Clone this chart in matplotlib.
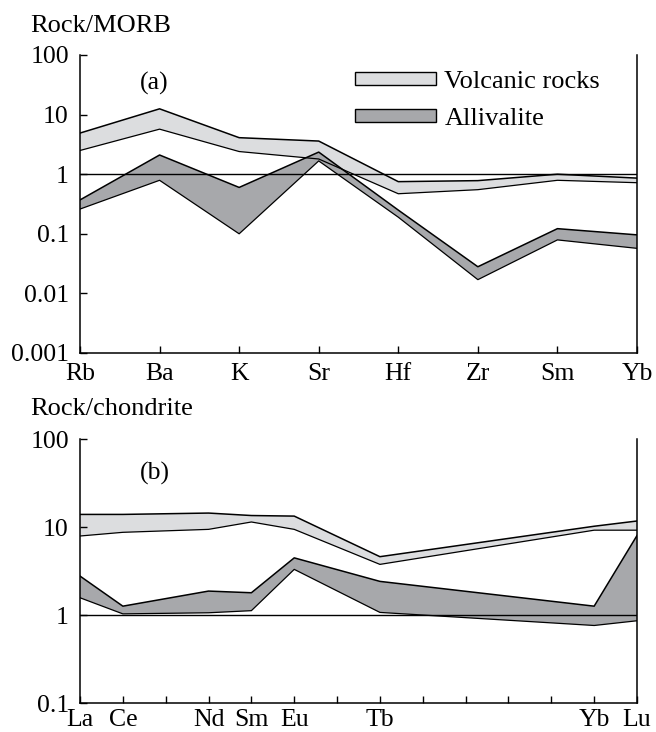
import matplotlib
matplotlib.use("Agg")
import matplotlib.pyplot as plt
from matplotlib.patches import Patch

plt.rcParams['font.family'] = ['Liberation Serif', 'DejaVu Serif']

# (a) MORB-normalised spider diagram
elems_a = ["Rb", "Ba", "K", "Sr", "Hf", "Zr", "Sm", "Yb"]
volc_hi_a = [4.9, 12.5, 4.1, 3.6, 0.75, 0.78, 1.0, 0.86]
volc_lo_a = [2.5, 5.7, 2.4, 1.8, 0.47, 0.55, 0.79, 0.72]
alli_hi_a = [0.37, 2.1, 0.6, 2.35, 0.25, 0.028, 0.122, 0.096]
alli_lo_a = [0.26, 0.79, 0.1, 1.67, 0.19, 0.017, 0.079, 0.057]

# (b) chondrite-normalised REE
ree_all = ["La", "Ce", "Pr", "Nd", "Sm", "Eu", "Gd", "Tb", "Dy", "Ho", "Er", "Tm", "Yb", "Lu"]
ree_shown = ["La", "Ce", "Nd", "Sm", "Eu", "Tb", "Yb", "Lu"]
volc_hi_b = [13.9, 13.9, 14.4, 13.5, 13.3, 4.6, 10.2, 11.7]
volc_lo_b = [7.9, 8.7, 9.4, 11.4, 9.4, 3.76, 9.2, 9.2]
alli_hi_b = [2.77, 1.26, 1.87, 1.79, 4.46, 2.41, 1.26, 8.0]
alli_lo_b = [1.57, 1.03, 1.06, 1.12, 3.3, 1.07, 0.76, 0.86]

LIGHT = "#dcdddf"
DARK = "#a7a8ab"

W, H = 656, 732
fig = plt.figure(figsize=(W / 100, H / 100), dpi=100)


def band(ax, x, lo, hi, color):
    ax.fill_between(x, lo, hi, facecolor=color, edgecolor="none", zorder=1)
    ax.plot(x, hi, color="black", lw=1.1, zorder=3)
    ax.plot(x, lo, color="black", lw=0.9, zorder=3)


def style(ax, xpad):
    ax.set_yscale("log")
    ax.spines["top"].set_visible(False)
    for s in ("left", "bottom", "right"):
        ax.spines[s].set_linewidth(1.1)
    ax.tick_params(direction="in", length=5, width=1.0, labelsize=18.5,
                   top=False, right=False)
    ax.tick_params(axis="x", pad=xpad)
    ax.tick_params(axis="y", pad=8)
    ax.tick_params(axis="y", which="minor", left=False, right=False)
    ax.axhline(1, color="black", lw=1.0, zorder=4)


# panel (a)
ax1 = fig.add_axes([80 / W, 1 - 353 / H, 557 / W, 298 / H])
xa = list(range(len(elems_a)))
band(ax1, xa, volc_lo_a, volc_hi_a, LIGHT)
band(ax1, xa, alli_lo_a, alli_hi_a, DARK)
style(ax1, 7)
ax1.set_xlim(0, len(elems_a) - 1)
ax1.set_ylim(0.001, 100)
ax1.set_yticks([0.001, 0.01, 0.1, 1, 10, 100])
ax1.set_yticklabels(["0.001", "0.01", "0.1", "1", "10", "100"])
ax1.set_xticks(xa)
ax1.set_xticklabels(elems_a)
ax1.text(0.108, 0.905, "(a)", transform=ax1.transAxes, fontsize=18.5, va="center")
leg = ax1.legend(handles=[Patch(facecolor=LIGHT, edgecolor="black", lw=1.0, label="Volcanic rocks"),
                          Patch(facecolor=DARK, edgecolor="black", lw=1.0, label="Allivalite")],
                 loc="upper left", bbox_to_anchor=((344 - 80) / 557, 0.982),
                 frameon=False, fontsize=19, handlelength=3.1, handleheight=0.4,
                 handletextpad=0.3, labelspacing=0.58, borderaxespad=0)
fig.text(30 / W, 1 - 32 / H, "Rock/MORB", fontsize=19, ha="left", va="baseline")

# panel (b)
ax2 = fig.add_axes([80 / W, 1 - 703 / H, 557 / W, 264 / H])
xb = [ree_all.index(e) for e in ree_shown]
band(ax2, xb, volc_lo_b, volc_hi_b, LIGHT)
band(ax2, xb, alli_lo_b, alli_hi_b, DARK)
style(ax2, 4)
ax2.set_xlim(0, len(ree_all) - 1)
ax2.set_ylim(0.1, 100)
ax2.set_yticks([0.1, 1, 10, 100])
ax2.set_yticklabels(["0.1", "1", "10", "100"])
ax2.set_xticks(range(len(ree_all)))
ax2.set_xticklabels([e if e in ree_shown else "" for e in ree_all])
ax2.text(0.108, 0.871, "(b)", transform=ax2.transAxes, fontsize=18.5, va="center")
fig.text(30 / W, 1 - 415 / H, "Rock/chondrite", fontsize=19, ha="left", va="baseline")

fig.savefig("out.png", dpi=100)
